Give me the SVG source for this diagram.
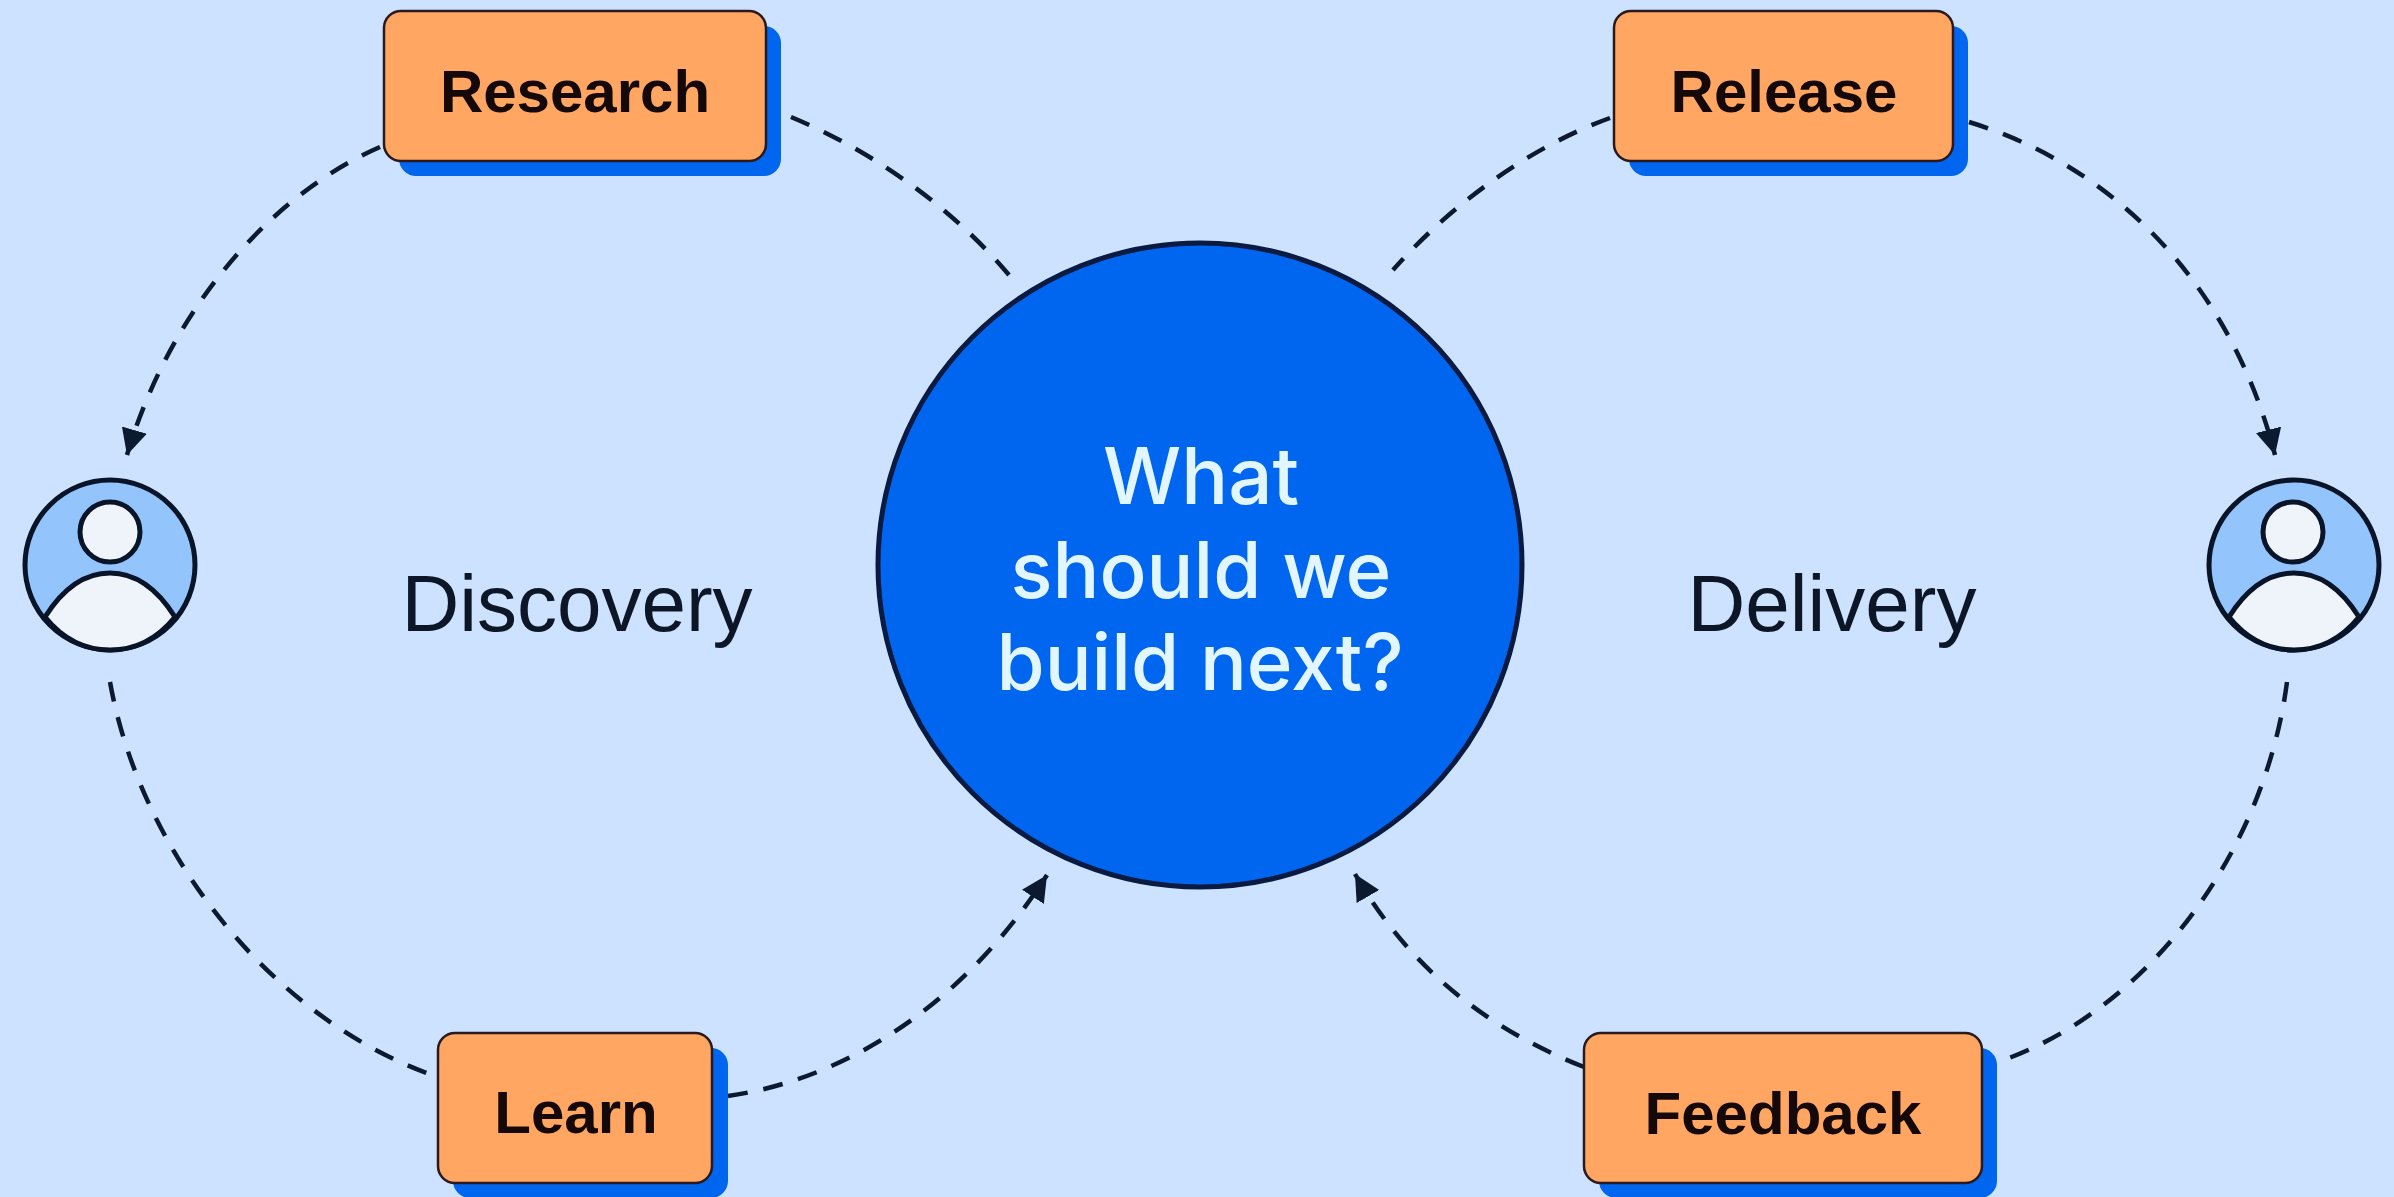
<svg xmlns="http://www.w3.org/2000/svg" width="2394" height="1197" viewBox="0 0 2394 1197">
<style>
.bg{fill:#CCE2FE}
.link{fill:none;stroke:#0C1A30;stroke-width:4.5;stroke-dasharray:20 16}
.shadow{fill:#0066F0}
.box{fill:#FFA762;stroke:#2A1A20;stroke-width:2.5}
.label{font-family:"Liberation Sans",Arial,sans-serif;font-weight:700;font-size:60px;fill:#150808;text-anchor:middle}
.side{font-family:"Liberation Sans",Arial,sans-serif;font-size:80px;fill:#0C1626;text-anchor:middle}
.hub{fill:#0066F0;stroke:#0A1A40;stroke-width:5}
.hubt{font-family:Inter,"Liberation Sans",sans-serif;font-weight:500;font-size:78px;fill:#E2F6FF;text-anchor:middle}
.disc{fill:#93C5FC;stroke:#0A1428;stroke-width:5}
.pale{fill:#EEF4FA;stroke:#0A1428;stroke-width:5}
</style>
<defs>
<marker id="tip" markerUnits="userSpaceOnUse" markerWidth="30" markerHeight="30" refX="26" refY="13" orient="auto">
<path d="M0 0L26 13L0 26Z" fill="#0C1A30"/>
</marker>
<clipPath id="cl"><circle cx="110" cy="565" r="87"/></clipPath>
<clipPath id="cr"><circle cx="2294" cy="565" r="87"/></clipPath>
</defs>
<rect class="bg" width="2394" height="1197"/>
<g id="connectors">
<path class="link" marker-end="url(#tip)" d="M380 147C270 195 170 310 127 455"/>
<path class="link" d="M791 117C870 150 950 205 1009 275"/>
<path class="link" d="M110 682C140 850 270 1020 438 1077"/>
<path class="link" marker-end="url(#tip)" d="M728 1096C840 1080 960 1010 1047 875"/>
<path class="link" d="M1610 118C1535 145 1455 200 1393 270"/>
<path class="link" marker-end="url(#tip)" d="M1969 122C2110 165 2230 280 2275 455"/>
<path class="link" d="M2287 682C2265 850 2150 1010 1998 1062"/>
<path class="link" marker-end="url(#tip)" d="M1584 1067C1490 1030 1410 970 1355 874"/>
</g>
<g id="hub">
<circle class="hub" cx="1200" cy="565" r="322"/>
<text class="hubt" x="1201" y="504">What</text>
<text class="hubt" x="1201" y="598">should we</text>
<text class="hubt" x="1200" y="690">build next?</text>
</g>
<g id="research">
<rect class="shadow" x="399" y="26" width="382" height="150" rx="17"/>
<rect class="box" x="384" y="11" width="382" height="150" rx="17"/>
<text class="label" x="575" y="112">Research</text>
</g>
<g id="release">
<rect class="shadow" x="1629" y="26" width="339" height="150" rx="17"/>
<rect class="box" x="1614" y="11" width="339" height="150" rx="17"/>
<text class="label" x="1784" y="112">Release</text>
</g>
<g id="learn">
<rect class="shadow" x="453" y="1048" width="275" height="150" rx="17"/>
<rect class="box" x="438" y="1033" width="274" height="150" rx="17"/>
<text class="label" x="576" y="1133">Learn</text>
</g>
<g id="feedback">
<rect class="shadow" x="1599" y="1048" width="398" height="150" rx="17"/>
<rect class="box" x="1584" y="1033" width="398" height="150" rx="17"/>
<text class="label" x="1783" y="1134">Feedback</text>
</g>
<g id="discovery"><text class="side" x="577" y="631">Discovery</text></g>
<g id="delivery"><text class="side" x="1832" y="631">Delivery</text></g>
<g id="user-left">
<circle class="disc" cx="110" cy="565" r="85"/>
<path class="pale" d="M45 617C62 590 84 573 110 573C136 573 158 590 175 617C158 638 136 650 110 650C84 650 62 638 45 617Z"/>
<circle class="pale" cx="110" cy="532" r="30"/>
</g>
<g id="user-right">
<circle class="disc" cx="2294" cy="565" r="85"/>
<path class="pale" d="M2229 617C2246 590 2268 573 2294 573C2320 573 2342 590 2359 617C2342 638 2320 650 2294 650C2268 650 2246 638 2229 617Z"/>
<circle class="pale" cx="2293" cy="532" r="30"/>
</g>
</svg>
